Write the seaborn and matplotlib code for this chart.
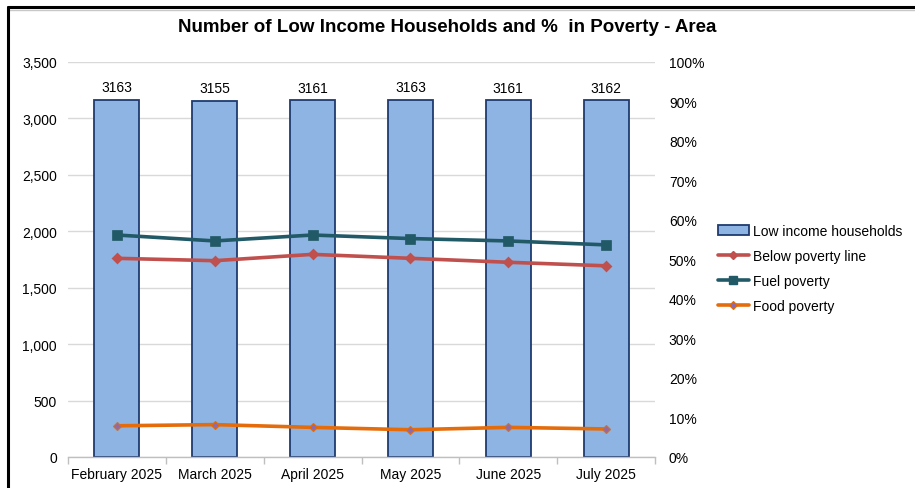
import matplotlib
matplotlib.use("Agg")
import matplotlib.pyplot as plt
from matplotlib.lines import Line2D
from matplotlib.patches import Patch
from matplotlib.ticker import PercentFormatter, FixedLocator, NullFormatter, FuncFormatter
import seaborn as sns
import pandas as pd

months = ["February 2025", "March 2025", "April 2025", "May 2025", "June 2025", "July 2025"]
low_income = [3163, 3155, 3161, 3163, 3161, 3162]
below_poverty = [0.503, 0.497, 0.513, 0.503, 0.493, 0.484]
fuel_poverty = [0.562, 0.547, 0.562, 0.553, 0.547, 0.537]
food_poverty = [0.079, 0.082, 0.075, 0.069, 0.075, 0.071]

df = pd.DataFrame({"month": months, "low": low_income, "below": below_poverty,
                   "fuel": fuel_poverty, "food": food_poverty})

sns.set_style("white")
plt.rcParams["font.family"] = ["Liberation Sans", "DejaVu Sans"]
plt.rcParams["text.color"] = "#000000"

BAR_FACE = "#8DB4E2"
BAR_EDGE = "#1F3B70"
RED = "#C0504D"
TEAL = "#215967"
ORANGE = "#E46C0A"
PURPLE = "#8E6BA8"
GRID = "#D9D9D9"

fig = plt.figure(figsize=(9.15, 4.89), dpi=100)
ax = fig.add_axes([68 / 915, 1 - 458 / 489, (655 - 68) / 915, (458 - 63) / 489])

sns.barplot(data=df, x="month", y="low", ax=ax, color=BAR_FACE, width=0.46,
            edgecolor=BAR_EDGE, linewidth=1.3, saturation=1, zorder=2)
ax.bar_label(ax.containers[0], fmt="%d", padding=4, fontsize=10, color="#000000")

ax2 = ax.twinx()
sns.pointplot(data=df, x="month", y="below", ax=ax2, color=RED, markers="D",
              markersize=4, linewidth=2.6, errorbar=None)
sns.pointplot(data=df, x="month", y="fuel", ax=ax2, color=TEAL, markers="s",
              markersize=6, linewidth=2.6, errorbar=None)
sns.pointplot(data=df, x="month", y="food", ax=ax2, color=ORANGE, markers="D",
              markersize=4, linewidth=2.6, errorbar=None)
lines = [l for l in ax2.lines if len(l.get_xdata()) == len(months)]
if len(lines) >= 3:
    lines[2].set_markerfacecolor(PURPLE)
    lines[2].set_markeredgecolor(ORANGE)
    lines[2].set_markeredgewidth(0.8)

# Left axis
ax.set_ylim(0, 3500)
ax.set_yticks(range(0, 3501, 500))
ax.yaxis.set_major_formatter(FuncFormatter(lambda v, p: f"{int(v):,}"))
ax.grid(axis="y", color=GRID, linewidth=1, zorder=0)
ax.set_axisbelow(True)
ax.tick_params(axis="y", length=0, pad=8, labelsize=10, colors="#000000")
ax.set_ylabel("")
ax.set_xlabel("")

# Right axis
ax2.set_ylim(0, 1.0)
ax2.set_yticks([i / 10 for i in range(11)])
ax2.yaxis.set_major_formatter(PercentFormatter(1.0, decimals=0))
ax2.tick_params(axis="y", length=0, pad=10, labelsize=10, colors="#000000")
ax2.set_ylabel("")
ax2.set_xlabel("")
ax2.grid(False)

# X axis: ticks at category boundaries, labels at centers
ax.set_xlim(-0.5, 5.5)
ax.xaxis.set_major_locator(FixedLocator([i - 0.5 for i in range(7)]))
ax.xaxis.set_major_formatter(NullFormatter())
ax.xaxis.set_minor_locator(FixedLocator(list(range(6))))
ax.set_xticklabels(months, minor=True)
ax.tick_params(axis="x", which="major", length=5, color="#BFBFBF", width=1, direction="out", bottom=True)
ax.tick_params(axis="x", which="minor", length=0, pad=7, labelsize=10, colors="#000000")

for a in (ax, ax2):
    for s in ("top", "left", "right"):
        a.spines[s].set_visible(False)
    a.spines["bottom"].set_color("#BFBFBF")
    a.spines["bottom"].set_linewidth(1)
ax2.spines["bottom"].set_visible(False)

fig.suptitle("Number of Low Income Households and %  in Poverty - Area",
             x=447 / 915, y=1 - 28 / 489, fontsize=13.5, fontweight="bold", va="center",
             color="#000000")

handles = [
    Patch(facecolor=BAR_FACE, edgecolor=BAR_EDGE, linewidth=1.3),
    Line2D([0], [0], color=RED, lw=2.6, marker="D", markersize=4),
    Line2D([0], [0], color=TEAL, lw=2.6, marker="s", markersize=6),
    Line2D([0], [0], color=ORANGE, lw=2.6, marker="D", markersize=4,
           markerfacecolor=PURPLE, markeredgecolor=ORANGE, markeredgewidth=0.8),
]
labels = ["Low income households", "Below poverty line", "Fuel poverty", "Food poverty"]
leg = fig.legend(handles, labels, loc="upper left", bbox_to_anchor=(718 / 915, 1 - 225 / 489),
                 frameon=False, fontsize=10, handlelength=2.2, handletextpad=0.3,
                 labelspacing=0.78, borderaxespad=0, borderpad=0)
for t in leg.get_texts():
    t.set_color("#000000")

# Outer frame (cropped at right and bottom)
fig.add_artist(Line2D([8 / 915, 1.0], [1 - 8 / 489, 1 - 8 / 489], transform=fig.transFigure,
                      color="#000000", lw=2.2))
fig.add_artist(Line2D([8 / 915, 1.0], [1 - 10.5 / 489, 1 - 10.5 / 489], transform=fig.transFigure,
                      color="#C8C8C8", lw=1))
fig.add_artist(Line2D([8 / 915, 8 / 915], [0, 1 - 8 / 489], transform=fig.transFigure,
                      color="#000000", lw=2.2))

fig.savefig("out.png", dpi=100)
